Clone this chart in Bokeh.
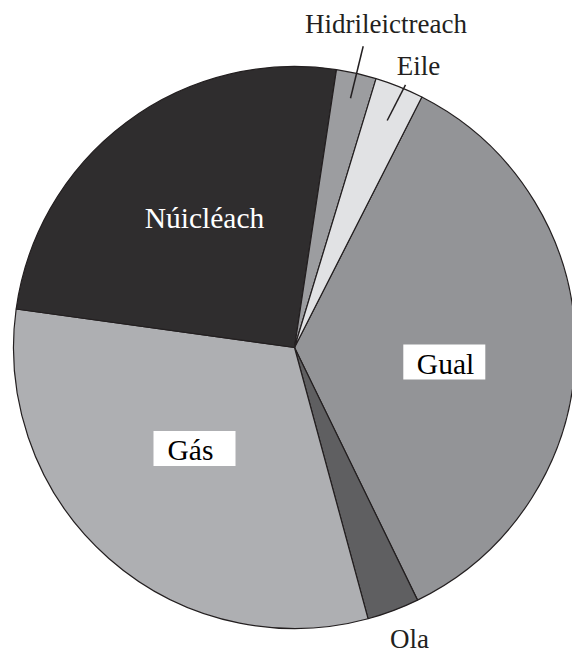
import math
from bokeh.plotting import figure
from bokeh.models import ColumnDataSource
from bokeh.core.properties import value
from bokeh.embed import file_html
from bokeh.resources import INLINE

# ---- data (percent shares), clockwise from the start angle ----
categories = ["Gual", "Ola", "Gás", "Núicléach", "Hidrileictreach", "Eile"]
shares = [35.3, 3.0, 31.4, 25.2, 2.3, 2.8]
colors = ["#939497", "#5f5f61", "#aeafb2", "#2f2d2e", "#9c9da0", "#e1e2e4"]

W, H = 572, 655
START_DEG = 63.05
CX, CY, R = 294, 655 - 347, 281   # pie centre/radius in px (data units = px)
TEXT_DY = 8  # baseline correction for svg text placement

def sx(x):
    return x

def sy(y):
    return H - y

total = sum(shares)
starts, ends = [], []
cum = 0.0
for v in shares:
    a0 = START_DEG - 360.0 * cum / total
    cum += v
    a1 = START_DEG - 360.0 * cum / total
    starts.append(math.radians(a0))
    ends.append(math.radians(a1))

src = ColumnDataSource(dict(cat=categories, val=shares, color=colors,
                            start=starts, end=ends,
                            x=[CX] * len(shares), y=[CY] * len(shares)))

p = figure(width=W, height=H, x_range=(0, W), y_range=(0, H),
           output_backend="svg", toolbar_location=None, min_border=0,
           background_fill_color="white", border_fill_color="white")
p.axis.visible = False
p.grid.visible = False
p.outline_line_color = None

p.wedge(x="x", y="y", radius=R, start_angle="start", end_angle="end",
        direction="clock", fill_color="color", line_color="#231f20",
        line_width=1.2, source=src)

FONT = value("Liberation Serif")

# boxed labels
p.rect(x=[sx(443.8), sx(194)], y=[sy(361.6), sy(448)], width=82, height=35,
       width_units="screen", height_units="screen",
       fill_color="white", line_color=None)

# inside labels
in_text = ["Núicléach", "Gual", "Gás"]
in_x = [sx(204), sx(445), sx(190)]
in_y = [sy(225.7) + TEXT_DY, sy(371) + TEXT_DY, sy(457.3) + TEXT_DY]
p.text(x=in_x, y=in_y, text=in_text, text_font=FONT, text_font_size="29.5px",
       text_align="center", text_baseline="alphabetic",
       text_color=["white", "black", "black"])

# outside labels
out_text = ["Hidrileictreach", "Eile", "Ola"]
out_x = [sx(385.5), sx(418), sx(409)]
out_y = [sy(31.7) + TEXT_DY, sy(73.3) + TEXT_DY, sy(646.7) + TEXT_DY]
p.text(x=out_x, y=out_y, text=out_text, text_font=FONT, text_font_size="27px",
       text_align="center", text_baseline="alphabetic", text_color="#231f20")

# leader lines
p.segment(x0=[sx(362.7), sx(405)], y0=[sy(45.7), sy(84.3)],
          x1=[sx(350), sx(386.7)], y1=[sy(97.7), sy(120)],
          line_color="#231f20", line_width=1.5)

open("out.html", "w").write(file_html(p, INLINE))
